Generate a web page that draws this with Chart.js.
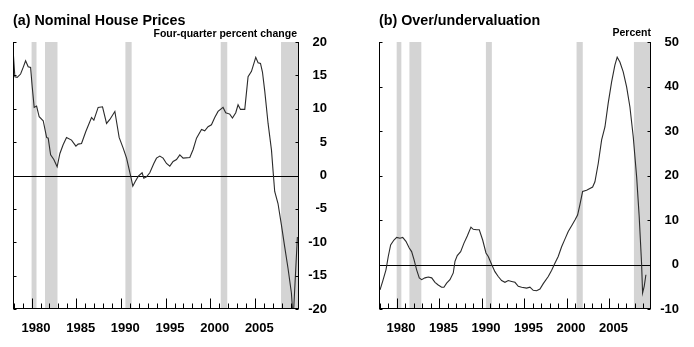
<!DOCTYPE html>
<html><head><meta charset="utf-8">
<script src="https://cdn.jsdelivr.net/npm/chart.js@4.4.1/dist/chart.umd.min.js"></script>
<style>
html,body{margin:0;padding:0;background:#fff;}
#wrap{position:relative;width:694px;height:347px;overflow:hidden;font-family:"Liberation Sans",Arial,sans-serif;}
canvas{position:absolute;top:0;}
.t{position:absolute;font-weight:bold;line-height:1;white-space:nowrap;color:#000;}
</style></head><body>
<div id="wrap">
<canvas id="c1" width="347" height="347" style="left:0;width:347px;height:347px"></canvas>
<canvas id="c2" width="347" height="347" style="left:347px;width:347px;height:347px"></canvas>
<div class="t" style="left:13px;top:13px;font-size:14.3px">(a) Nominal House Prices</div>
<div class="t" style="right:397px;top:28px;font-size:10.5px">Four-quarter percent change</div>
<div class="t" style="left:379px;top:13px;font-size:14.3px">(b) Over/undervaluation</div>
<div class="t" style="right:43px;top:27px;font-size:10.5px">Percent</div>
</div>
<script>
const yearMin = 1977.92, yearMax = 2009.93;
const recessionStarts = [1980.0, 1981.5, 1990.5, 2001.17, 2007.92];
const recessionEnds   = [1980.55, 1982.9, 1991.2, 2001.9, 2009.93];

const yearTicks = [1978,1979,1980,1981,1982,1983,1984,1985,1986,1987,1988,1989,1990,1991,1992,1993,1994,1995,1996,1997,1998,1999,2000,2001,2002,2003,2004,2005,2006,2007,2008,2009];
const yearLabels = [1980,1985,1990,1995,2000,2005];

const priceYears = [1977.95,1978.13,1978.39,1978.77,1979.06,1979.33,1979.62,1979.89,1980.07,1980.29,1980.56,1980.85,1981.30,1981.68,1981.86,1982.13,1982.49,1982.86,1983.17,1983.53,1983.91,1984.47,1984.96,1985.21,1985.59,1986.07,1986.71,1986.97,1987.45,1987.94,1988.39,1988.76,1989.32,1989.80,1990.25,1990.63,1991.11,1991.33,1991.6,1991.95,1992.37,1992.56,1992.86,1993.23,1993.68,1993.98,1994.35,1994.72,1995.1,1995.47,1995.84,1996.22,1996.59,1996.96,1997.71,1998.08,1998.46,1999.02,1999.38,1999.75,2000.13,2000.5,2000.87,2001.43,2001.73,2002.18,2002.48,2002.85,2003.11,2003.38,2003.86,2004.23,2004.61,2005.09,2005.35,2005.62,2005.84,2006.1,2006.47,2006.85,2007.02,2007.21,2007.58,2007.96,2008.33,2008.7,2009.08,2009.28,2009.75];
const priceChange = [18.4,14.8,14.7,15.2,16.2,17.2,16.3,16.2,13.3,10.2,10.4,8.8,8.2,5.7,5.6,3.1,2.4,1.3,3.3,4.6,5.7,5.3,4.4,4.7,4.8,6.6,8.7,8.3,10.2,10.3,7.8,8.4,9.6,5.7,4.1,2.6,-0.2,-1.6,-0.9,-0.1,0.4,-0.4,-0.2,0.4,1.8,2.6,2.9,2.6,1.8,1.4,2.1,2.4,3.1,2.6,2.7,3.9,5.6,6.9,6.7,7.3,7.6,8.7,9.6,10.2,9.4,9.2,8.6,9.4,10.6,9.9,9.9,14.8,15.6,17.7,16.9,16.8,15.5,12.6,7.8,3.8,0.8,-2.4,-4.2,-7.4,-10.7,-13.9,-17.6,-21.5,-9.2];

const valYears = [1978.04,1978.35,1978.74,1979.01,1979.29,1979.68,1980.0,1980.39,1980.71,1981.09,1981.48,1981.76,1982.04,1982.35,1982.66,1982.94,1983.33,1983.72,1984.12,1984.51,1984.89,1985.29,1985.56,1985.88,1986.27,1986.66,1986.86,1987.13,1987.53,1987.92,1988.31,1988.74,1989.01,1989.41,1989.72,1990.12,1990.51,1990.78,1991.18,1991.56,1991.95,1992.35,1992.74,1993.13,1993.53,1993.92,1994.31,1994.71,1995.29,1995.68,1996.07,1996.47,1996.86,1997.25,1997.84,1998.24,1998.62,1999.01,1999.41,1999.8,2000.19,2000.59,2000.98,2001.29,2001.56,2001.88,2002.35,2003.06,2003.33,2003.72,2004.12,2004.51,2004.89,2005.29,2005.68,2005.95,2006.27,2006.66,2007.06,2007.45,2007.84,2008.24,2008.54,2008.82,2008.94,2009.13,2009.33];
const valuation = [-5.7,-3.8,-1.2,1.8,4.4,5.5,6.1,5.9,6.1,5.2,3.7,2.9,1.1,-1.2,-3.0,-3.4,-3.0,-2.8,-3.0,-4.0,-4.6,-5.1,-5.1,-4.2,-3.4,-1.9,0.7,2.0,2.9,4.8,6.4,8.4,7.9,7.8,7.8,5.5,2.6,1.8,0.0,-1.6,-2.7,-3.6,-4.0,-3.6,-3.8,-4.0,-4.9,-5.1,-5.3,-5.1,-5.8,-5.9,-5.5,-4.3,-2.7,-1.3,0.3,1.8,4.0,5.7,7.4,8.7,10.0,11.1,13.4,16.4,16.7,17.4,18.6,22.7,28.0,30.9,36.2,41.0,44.8,46.6,45.5,43.3,39.9,35.4,28.7,19.7,10.8,0.3,-6.4,-4.9,-2.3];

const priceTicks = [-20,-15,-10,-5,0,5,10,15,20];
const valTicks = [-10,0,10,20,30,40,50];

const FONT = {family:'"Liberation Sans", Arial, sans-serif', size:13, weight:'bold'};

const framePlugin = {
  id:'frame',
  beforeDatasetsDraw(chart){
    const {ctx, chartArea:a, scales:{x, y}} = chart;
    ctx.save();
    ctx.fillStyle = '#d4d4d4';
    for (let i = 0; i < recessionStarts.length; i++){
      const x0 = Math.max(a.left, x.getPixelForValue(recessionStarts[i]));
      const x1 = Math.min(a.right, x.getPixelForValue(recessionEnds[i]));
      if (x1 > x0) ctx.fillRect(x0, a.top, x1 - x0, a.bottom - a.top);
    }
    const y0 = Math.round(y.getPixelForValue(0)) + 0.5;
    ctx.strokeStyle = '#000'; ctx.lineWidth = 1;
    ctx.beginPath(); ctx.moveTo(a.left, y0); ctx.lineTo(a.right, y0); ctx.stroke();
    ctx.restore();
  },
  afterDatasetsDraw(chart){
    const {ctx, chartArea:a, scales:{x, y}} = chart;
    ctx.save();
    ctx.strokeStyle = '#000'; ctx.lineWidth = 1;
    const L = Math.round(a.left) + 0.5, R = Math.round(a.right) - 0.5, B = Math.round(a.bottom) - 0.5, T = Math.round(a.top);
    ctx.beginPath();
    ctx.moveTo(L, T); ctx.lineTo(L, B + 0.5);
    ctx.moveTo(R, T); ctx.lineTo(R, B + 0.5);
    ctx.moveTo(L - 0.5, B); ctx.lineTo(R + 0.5, B);
    y.ticks.forEach(t => {
      const yp = Math.round(y.getPixelForValue(t.value)) + 0.5;
      ctx.moveTo(L, yp); ctx.lineTo(L + 3, yp);
      ctx.moveTo(R, yp); ctx.lineTo(R - 3, yp);
    });
    x.ticks.forEach(t => {
      const xp = Math.round(x.getPixelForValue(t.value)) + 0.5;
      const len = yearLabels.includes(t.value) ? 10 : 5;
      ctx.moveTo(xp, B); ctx.lineTo(xp, B - len);
    });
    ctx.stroke();
    ctx.restore();
  }
};

function makeChart(id, years, values, tickVals, padLeft, padRight){
  const pts = years.map((yr, i) => ({x: yr, y: values[i]}));
  return new Chart(document.getElementById(id), {
    type:'line',
    data:{datasets:[{data:pts, borderColor:'#2b2b2b', borderWidth:1.1, pointRadius:0, tension:0, fill:false}]},
    options:{
      responsive:false, animation:false, events:[],
      devicePixelRatio:1,
      layout:{padding:{left:padLeft, top:42, right:padRight, bottom:0}},
      plugins:{legend:{display:false}, tooltip:{enabled:false}},
      scales:{
        x:{type:'linear', min:yearMin, max:yearMax, bounds:'data',
           grid:{display:false}, border:{display:false},
           afterBuildTicks(s){ s.ticks = yearTicks.map(v => ({value:v})); },
           afterFit(s){ s.height = 38; },
           ticks:{autoSkip:false, maxRotation:0, minRotation:0,
                  labelOffset:4.4, padding:4, color:'#000', font:FONT,
                  callback:v => (yearLabels.includes(v) ? String(v) : '')}},
        y:{type:'linear', position:'right', min:tickVals[0], max:tickVals[tickVals.length-1],
           grid:{display:false}, border:{display:false},
           afterBuildTicks(s){ s.ticks = tickVals.map(v => ({value:v})); },
           afterFit(s){ s.width = 28; },
           ticks:{crossAlign:'far', padding:9, color:'#000', font:FONT}}
      }
    },
    plugins:[framePlugin]
  });
}

makeChart('c1', priceYears, priceChange, priceTicks, 13, 20);
makeChart('c2', valYears, valuation, valTicks, 32, 15);
</script>
</body></html>
